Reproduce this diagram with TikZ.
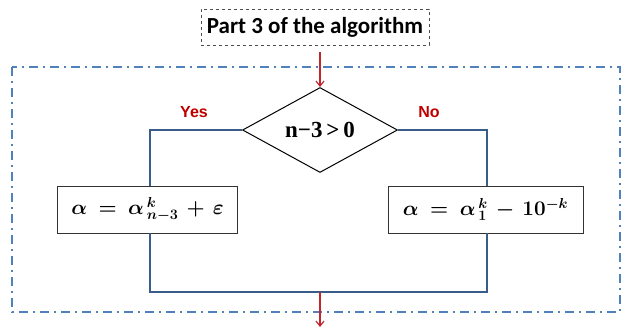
\documentclass[tikz,border=0pt]{standalone}
\usepackage{amsmath,bm}
\usepackage{fontspec}
\newfontfamily\carlitof{Carlito}
\newfontfamily\arialf{Liberation Sans}
\newfontfamily\timesf{Liberation Serif}
\usetikzlibrary{shapes.geometric,arrows.meta}
\definecolor{frameblue}{HTML}{4F81BD}
\definecolor{linkblue}{HTML}{385D8A}
\definecolor{arrred}{HTML}{C0272D}
\definecolor{lblred}{HTML}{C00000}
\tikzset{
  link/.style={draw=linkblue, line width=1.4pt},
  flowarrow/.style={draw=arrred, line width=1.2pt, -{Straight Barb[length=5pt,width=8pt]}},
  formbox/.style={draw=black!80, line width=0.8pt, fill=white, minimum height=47pt, inner sep=0pt, font=\huge},
  lbl/.style={text=lblred, font=\arialf\bfseries\fontsize{16}{18}\selectfont},
}
\begin{document}
\begin{tikzpicture}[x=1pt,y=-1pt]
\useasboundingbox (0,0) rectangle (622,332);
% outer dash-dot frame
\draw[frameblue, line width=1.8pt, dash pattern=on 9pt off 5pt on 2pt off 5pt] (12,67) rectangle (620,312);
% title box
\node[draw=black!70, dashed, line width=0.7pt, minimum width=228pt, minimum height=36pt, inner sep=0pt,
      font=\carlitof\bfseries\fontsize{23}{26}\selectfont] (title) at (315,27) {Part 3 of the algorithm};
% decision
\node[diamond, draw=black, line width=1pt, minimum width=155pt, minimum height=85pt, aspect=1.8, inner sep=0pt,
      font=\timesf\bfseries\fontsize{23}{26}\selectfont] (dec) at (320,130) {n−3\,>\,0};
% boxes
\node[formbox, minimum width=180pt] (yesbox) at (147.5,209.5)
  {$\bm{\alpha \;=\; \alpha^{\,k}_{\,n-3} \,+\, \varepsilon}$\hspace{8pt}};
\node[formbox, minimum width=195pt] (nobox) at (485.5,209.5)
  {$\bm{\alpha \;=\; \alpha^{\,k}_{\,1} \,-\, 10^{-k}}$\hspace{6pt}};
\coordinate (yl) at (150,0);
\coordinate (nl) at (487,0);
\coordinate (bot) at (320,292);
\coordinate (out) at (320,327);
% links
\draw[link] (dec.west) -| (yesbox.north -| yl);
\draw[link] (dec.east) -| (nobox.north -| nl);
\draw[link] (yesbox.south -| yl) |- (bot) -| (nobox.south -| nl);
% labels
\node[lbl] (yes) at (194,112) {Yes};
\node[lbl] (no) at (429,112) {No};
% arrows
\draw[flowarrow] (320,52) -- (dec.north);
\draw[flowarrow] (bot) -- (out);
\end{tikzpicture}
\end{document}
